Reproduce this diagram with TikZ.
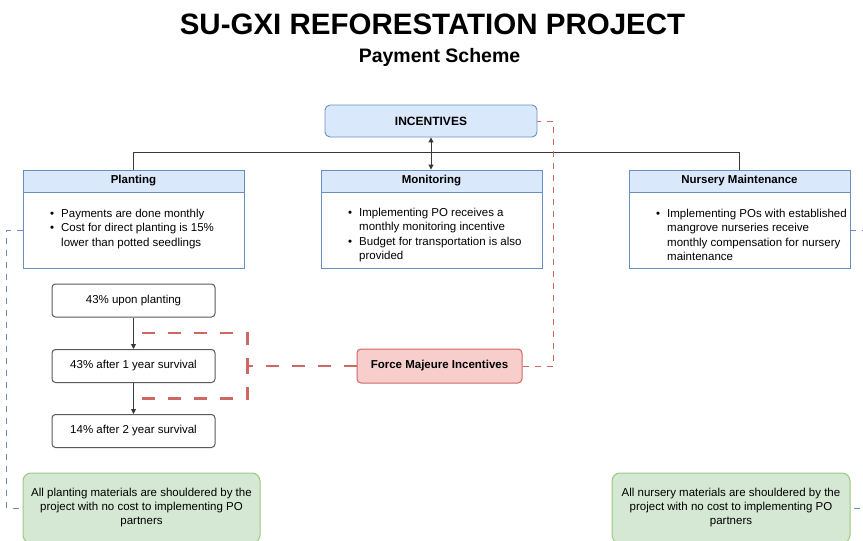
\documentclass[tikz,border=0pt]{standalone}
\usepackage{fontspec}
\setmainfont{Liberation Sans}
\usetikzlibrary{arrows.meta,calc}

\definecolor{blueFill}{HTML}{DAE8FC}
\definecolor{blueLine}{HTML}{6C8EBF}
\definecolor{redFill}{HTML}{F8CECC}
\definecolor{redLine}{HTML}{CF6763}
\definecolor{greenFill}{HTML}{D5E8D4}
\definecolor{greenLine}{HTML}{9CC87E}
\definecolor{treeLine}{HTML}{383838}
\definecolor{boxLine}{HTML}{5A5A5A}

\newcommand\fsz[2]{\fontsize{#1}{#2}\selectfont}
\newcommand\bul[1]{\makebox[11pt][l]{\textbullet}#1}
\newcommand\cont[1]{\hspace*{11pt}#1}

\tikzset{
  lanehead/.style={draw=blueLine, fill=blueFill, line width=0.9pt,
    minimum width=221pt, minimum height=22pt, inner sep=0pt,
    font=\bfseries\fsz{11.5}{14}},
  lanebody/.style={draw=blueLine, fill=white, line width=0.9pt,
    minimum width=221pt, minimum height=76pt, inner sep=0pt},
  bullets/.style={anchor=north west, inner sep=0pt, align=left,
    font=\fsz{11.5}{14.4}},
  incbox/.style={draw=blueLine, fill=blueFill, line width=0.9pt,
    rounded corners=5pt, minimum width=212pt, minimum height=32pt,
    inner sep=0pt, font=\bfseries\fsz{12}{14}},
  stepbox/.style={draw=boxLine, fill=white, line width=1pt,
    rounded corners=3.5pt, minimum width=163pt, minimum height=33pt,
    inner sep=0pt, font=\fsz{11.5}{14}},
  fmbox/.style={draw=redLine, fill=redFill, line width=1pt,
    rounded corners=4pt, minimum width=165pt, minimum height=34pt,
    inner sep=0pt, font=\bfseries\fsz{11.5}{14}},
  greenbox/.style={draw=greenLine, fill=greenFill, line width=1pt,
    rounded corners=8pt, minimum height=70pt, inner sep=0pt,
    align=center, font=\fsz{11.5}{14}},
  tree/.style={draw=treeLine, line width=1pt},
  tip/.style={-{Triangle[length=5pt,width=5pt]}},
  fmthick/.style={draw=redLine, line width=2.2pt, dash pattern=on 13pt off 13pt},
  fmthin/.style={draw=redLine, line width=0.9pt, dash pattern=on 6pt off 6pt},
  bluedash/.style={draw=blueLine, line width=0.8pt, dash pattern=on 6pt off 6pt}
}

\begin{document}
\begin{tikzpicture}[x=1pt, y=-1pt]
  \useasboundingbox (0,0) rectangle (863,541);
  \fill[white] (0,0) rectangle (863,541);
  \clip (0,0) rectangle (863,541);

  % titles
  \node[anchor=base, inner sep=0pt, font=\bfseries\fsz{29.5}{32}] (title)
    at (432.5,34.5) {SU-GXI REFORESTATION PROJECT};
  \node[anchor=base, inner sep=0pt, font=\bfseries\fsz{19.5}{22}] (subtitle)
    at (439.5,62) {Payment Scheme};

  % top box
  \node[incbox] (inc) at (431,121) {INCENTIVES};

  % the three incentive lanes
  \node[lanebody] (plb) at (133.5,230) {};
  \node[lanehead] (plh) at (133.5,181) {Planting};
  \node[lanebody] (mob) at (431.5,230) {};
  \node[lanehead] (moh) at (431.5,181) {Monitoring};
  \node[lanebody] (nub) at (739.5,230) {};
  \node[lanehead] (nuh) at (739.5,181) {Nursery Maintenance};

  \node[bullets] (pll) at (50,209)
    {\bul{Payments are done monthly}\\
     \bul{Cost for direct planting is 15\%}\\
     \cont{lower than potted seedlings}};
  \node[bullets] (mol) at (348,208)
    {\bul{Implementing PO receives a}\\
     \cont{monthly monitoring incentive}\\
     \bul{Budget for transportation is also}\\
     \cont{provided}};
  \node[bullets] (nul) at (656,209)
    {\bul{Implementing POs with established}\\
     \cont{mangrove nurseries receive}\\
     \cont{monthly compensation for nursery}\\
     \cont{maintenance}};

  % tree connectors
  \draw[tree] (plh.north) -- ++(0,-17) -| (nuh.north);
  \draw[tree, {Triangle[length=5pt,width=5pt]}-{Triangle[length=5pt,width=5pt]}]
    (inc.south) -- (inc.south |- moh.north);

  % planting payment steps
  \node[stepbox] (s1) at (133.5,300.5) {43\% upon planting};
  \node[stepbox] (s2) at (133.5,366) {43\% after 1 year survival};
  \node[stepbox] (s3) at (133.5,431) {14\% after 2 year survival};
  \draw[tree, tip] (s1) -- (s2);
  \draw[tree, tip] (s2) -- (s3);
  \coordinate (m1) at ($(s1.south)!0.5!(s2.north)$);
  \coordinate (m2) at ($(s2.south)!0.5!(s3.north)$);

  % force majeure
  \node[fmbox] (fm) at (439.5,366) {Force Majeure Incentives};
  \draw[fmthick] (fm.west) -- ++(-109,0) |- (m1);
  \draw[fmthick] (fm.west) -- ++(-109,0) |- (m2);
  \draw[fmthin] (fm.east) -| ([xshift=16pt]inc.east) -- (inc.east);

  % materials boxes
  \node[greenbox, minimum width=237pt] (gl) at (141.5,508)
    {All planting materials are shouldered by the\\
     project with no cost to implementing PO\\ partners};
  \node[greenbox, minimum width=238pt] (gr) at (731,508)
    {All nursery materials are shouldered by the\\
     project with no cost to implementing PO\\ partners};
  \draw[bluedash] (plb.west) -- ++(-16,0) |- (gl.west);
  \draw[bluedash] (nub.east) -- ++(22,0) |- (gr.east);
\end{tikzpicture}
\end{document}
